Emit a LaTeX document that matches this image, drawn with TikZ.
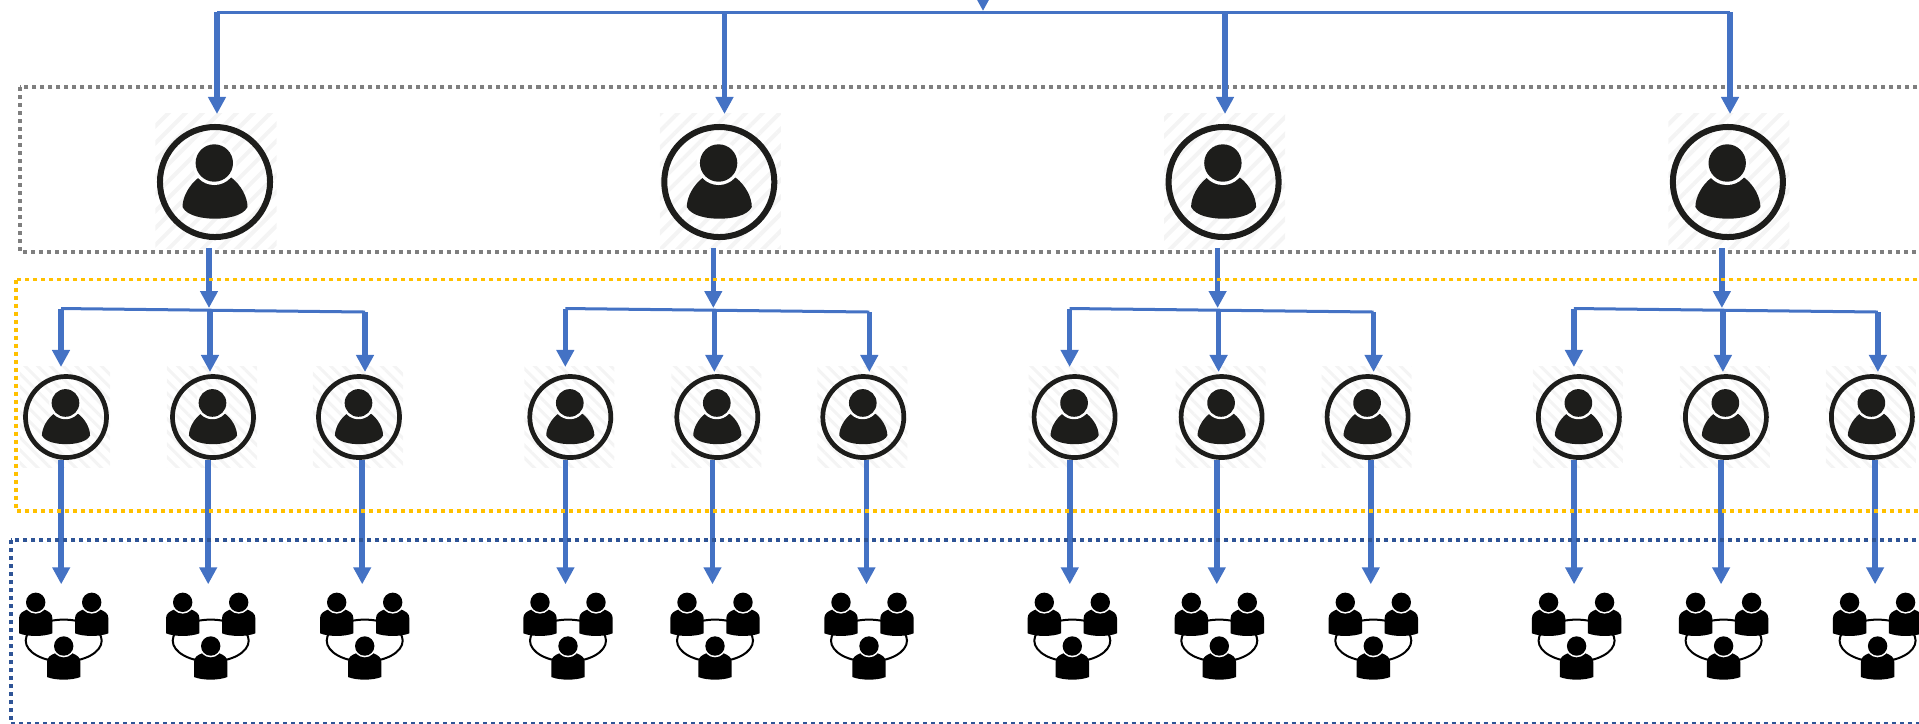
\documentclass[tikz,border=0pt]{standalone}
\usepackage{amsmath, amssymb}
\usetikzlibrary{arrows.meta, patterns.meta}

\definecolor{treeblue}{HTML}{4472C4}
\definecolor{inkblack}{HTML}{1D1D1B}
\definecolor{hatchgrey}{HTML}{F4F4F4}
\definecolor{dotgrey}{HTML}{7F7F7F}
\definecolor{dotyellow}{HTML}{FFC000}
\definecolor{dotblue}{HTML}{2F5597}

\tikzset{
    tree/.style={draw=treeblue, line width=.056cm, -{Triangle[length=.17cm, width=.17cm]}},
    busline/.style={draw=treeblue, line width=.03cm},
    dotbox/.style={line width=.037cm, dash pattern=on .04cm off .04cm},
    hatchbig/.style={minimum width=1.21cm, minimum height=1.34cm, inner sep=0pt, outer sep=0pt,
        pattern={Lines[angle=45, distance=.12cm, line width=.04cm]}, pattern color=hatchgrey},
    hatchsmall/.style={minimum width=.90cm, minimum height=1.00cm, inner sep=0pt, outer sep=0pt,
        pattern={Lines[angle=-45, distance=.09cm, line width=.03cm]}, pattern color=hatchgrey},
    ringbig/.style={draw=inkblack, circle, line width=.06cm, minimum size=1.10cm, inner sep=0pt},
    ringsmall/.style={draw=inkblack, circle, line width=.047cm, minimum size=.81cm, inner sep=0pt},
    teambox/.style={minimum width=.90cm, minimum height=.98cm, inner sep=0pt, outer sep=0pt},
    personshape/.pic={
        \fill[inkblack] (-16.5,-4.3) .. controls (-26,3) and (-32.5,15) .. (-32.5,25)
            .. controls (-28,34) and (-12,36.7) .. (0,36.7)
            .. controls (12,36.7) and (28,34) .. (32.5,25)
            .. controls (32.5,15) and (26,3) .. (16.5,-4.3) -- cycle;
        \fill[white] (-.7,-19) circle [radius=22];
        \fill[inkblack] (-.7,-19) circle [radius=18.7];
    },
    member/.pic={
        \fill[black] (-16.7,31) -- (-16.7,16) .. controls (-16.7,11) and (-13,9) .. (-8,7)
            -- (8,7) .. controls (13,9) and (16.7,11) .. (16.7,16) -- (16.7,31)
            .. controls (8,34.5) and (-8,34.5) .. (-16.7,31) -- cycle;
        \fill[white] (0,0) circle [radius=11.3];
        \fill[black] (0,0) circle [radius=9.7];
    },
    bigperson/.pic={
        \node[hatchbig] (-hatch) at (1,-1) {};
        \node[ringbig] (-ring) at (0,0) {};
        \pic at (0,0) {personshape};
    },
    smallperson/.pic={
        \node[hatchsmall] (-hatch) at (-1,0) {};
        \node[ringsmall] (-ring) at (0,0) {};
        \pic[scale=.74] at (0,0) {personshape};
    },
    team/.pic={
        \node[teambox] (-box) at (-2.5,0) {};
        \draw[black, line width=.02cm] (0,7.3) ellipse [x radius=38, y radius=21];
        \pic at (-28,-31) {member};
        \pic at (28,-31) {member};
        \pic at (0,12.7) {member};
    },
}

\begin{document}
\begin{tikzpicture}[x=.01cm, y=-.01cm]
    \useasboundingbox (0,0) rectangle (1919,723);
    \clip (0,0) rectangle (1919,723);

    \draw[dotbox, dotgrey] (20,87) rectangle (2000,252);

    \begin{scope}[name prefix=c1-]
        \pic (boss) at (215,182) {bigperson};
        \coordinate (stem) at (209,308);
        \draw[tree] (boss-hatch.south -| stem) -- (stem);

        \coordinate (busL) at (61,308.5);
        \coordinate (busM) at (210,310);
        \coordinate (busR) at (365,312);
        \draw[busline] (busL) -- (busR);

        \pic (a) at (66,417) {smallperson};
        \pic (b) at (213,417) {smallperson};
        \pic (c) at (359,417) {smallperson};
        \draw[tree] (busL) -- (busL |- a-hatch.north);
        \draw[tree, shorten >=-.05cm] (busM) -- (busM |- b-hatch.north);
        \draw[tree, shorten >=-.05cm] (busR) -- (busR |- c-hatch.north);

        \pic (ta) at (63.7,633.3) {team};
        \pic (tb) at (210.7,633.3) {team};
        \pic (tc) at (364.7,633.3) {team};
        \draw[tree] (ta-box.north |- a-ring.south) -- (ta-box.north);
        \draw[tree] (tb-box.north |- b-ring.south) -- (tb-box.north);
        \draw[tree] (tc-box.north |- c-ring.south) -- (tc-box.north);
    \end{scope}

    \begin{scope}[xshift=5.04cm, name prefix=c2-]
        \pic (boss) at (215,182) {bigperson};
        \coordinate (stem) at (209,308);
        \draw[tree] (boss-hatch.south -| stem) -- (stem);

        \coordinate (busL) at (61,308.5);
        \coordinate (busM) at (210,310);
        \coordinate (busR) at (365,312);
        \draw[busline] (busL) -- (busR);

        \pic (a) at (66,417) {smallperson};
        \pic (b) at (213,417) {smallperson};
        \pic (c) at (359,417) {smallperson};
        \draw[tree] (busL) -- (busL |- a-hatch.north);
        \draw[tree, shorten >=-.05cm] (busM) -- (busM |- b-hatch.north);
        \draw[tree, shorten >=-.05cm] (busR) -- (busR |- c-hatch.north);

        \pic (ta) at (63.7,633.3) {team};
        \pic (tb) at (210.7,633.3) {team};
        \pic (tc) at (364.7,633.3) {team};
        \draw[tree] (ta-box.north |- a-ring.south) -- (ta-box.north);
        \draw[tree] (tb-box.north |- b-ring.south) -- (tb-box.north);
        \draw[tree] (tc-box.north |- c-ring.south) -- (tc-box.north);
    \end{scope}

    \begin{scope}[xshift=10.08cm, name prefix=c3-]
        \pic (boss) at (215,182) {bigperson};
        \coordinate (stem) at (209,308);
        \draw[tree] (boss-hatch.south -| stem) -- (stem);

        \coordinate (busL) at (61,308.5);
        \coordinate (busM) at (210,310);
        \coordinate (busR) at (365,312);
        \draw[busline] (busL) -- (busR);

        \pic (a) at (66,417) {smallperson};
        \pic (b) at (213,417) {smallperson};
        \pic (c) at (359,417) {smallperson};
        \draw[tree] (busL) -- (busL |- a-hatch.north);
        \draw[tree, shorten >=-.05cm] (busM) -- (busM |- b-hatch.north);
        \draw[tree, shorten >=-.05cm] (busR) -- (busR |- c-hatch.north);

        \pic (ta) at (63.7,633.3) {team};
        \pic (tb) at (210.7,633.3) {team};
        \pic (tc) at (364.7,633.3) {team};
        \draw[tree] (ta-box.north |- a-ring.south) -- (ta-box.north);
        \draw[tree] (tb-box.north |- b-ring.south) -- (tb-box.north);
        \draw[tree] (tc-box.north |- c-ring.south) -- (tc-box.north);
    \end{scope}

    \begin{scope}[xshift=15.12cm, name prefix=c4-]
        \pic (boss) at (215,182) {bigperson};
        \coordinate (stem) at (209,308);
        \draw[tree] (boss-hatch.south -| stem) -- (stem);

        \coordinate (busL) at (61,308.5);
        \coordinate (busM) at (210,310);
        \coordinate (busR) at (365,312);
        \draw[busline] (busL) -- (busR);

        \pic (a) at (66,417) {smallperson};
        \pic (b) at (213,417) {smallperson};
        \pic (c) at (359,417) {smallperson};
        \draw[tree] (busL) -- (busL |- a-hatch.north);
        \draw[tree, shorten >=-.05cm] (busM) -- (busM |- b-hatch.north);
        \draw[tree, shorten >=-.05cm] (busR) -- (busR |- c-hatch.north);

        \pic (ta) at (63.7,633.3) {team};
        \pic (tb) at (210.7,633.3) {team};
        \pic (tc) at (364.7,633.3) {team};
        \draw[tree] (ta-box.north |- a-ring.south) -- (ta-box.north);
        \draw[tree] (tb-box.north |- b-ring.south) -- (tb-box.north);
        \draw[tree] (tc-box.north |- c-ring.south) -- (tc-box.north);
    \end{scope}

    \coordinate (topA) at (217,12);
    \coordinate (topB) at (724.5,12);
    \coordinate (topC) at (1225,12);
    \coordinate (topD) at (1730,12);
    \coordinate (feed) at (983,-20);
    \coordinate (feedtip) at (983,11);
    \draw[busline] (topA) -- (topD);
    \draw[tree] (feed) -- (feedtip);
    \draw[tree] (topA) -- (topA |- c1-boss-hatch.north);
    \draw[tree] (topB) -- (topB |- c2-boss-hatch.north);
    \draw[tree] (topC) -- (topC |- c3-boss-hatch.north);
    \draw[tree] (topD) -- (topD |- c4-boss-hatch.north);

    \draw[dotbox, dotyellow] (16,279.5) rectangle (2000,510.7);
    \draw[dotbox, dotblue] (11,540) rectangle (2000,724);
\end{tikzpicture}
\end{document}
